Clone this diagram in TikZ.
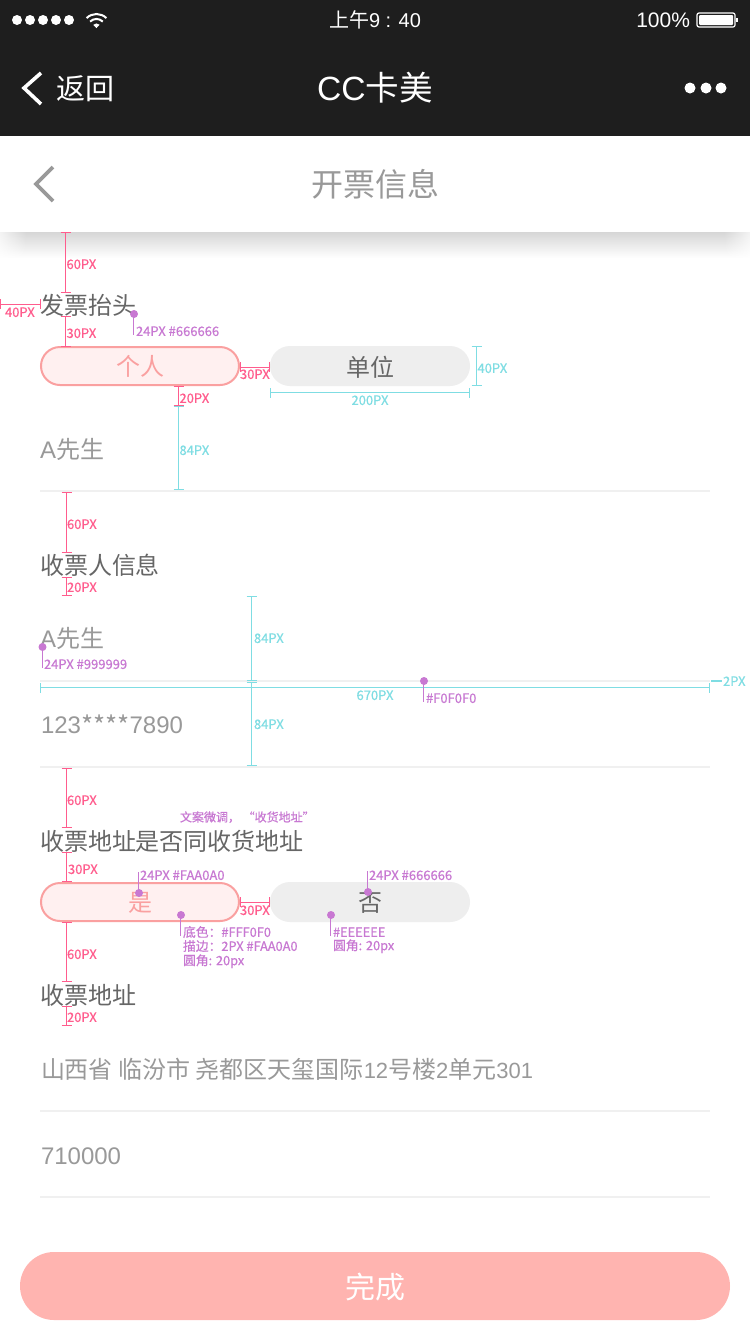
\documentclass[tikz,border=0pt]{standalone}
\usetikzlibrary{fadings}
\usepackage{fontspec}
\setmainfont{Noto Sans CJK SC}
\newfontfamily\latinf{Liberation Sans}
\newfontfamily\lblf{Noto Sans CJK SC}[FakeBold=0.5]
\definecolor{barbg}{HTML}{1E1E1E}
\definecolor{txtdark}{HTML}{666666}
\definecolor{txtgray}{HTML}{999999}
\definecolor{pinkdim}{HTML}{FF5C8D}
\definecolor{cyandim}{HTML}{7FDDE3}
\definecolor{violet}{HTML}{C878D2}
\definecolor{rule}{HTML}{F0F0F0}
\definecolor{accent}{HTML}{FAA0A0}
\definecolor{accentbg}{HTML}{FFF0F0}
\definecolor{offbg}{HTML}{EEEEEE}
\definecolor{donebg}{HTML}{FFB4B0}
\tikzset{
  lab/.style={inner sep=0pt,outer sep=0pt},
  sepline/.style={draw=rule,line width=2pt},
  dimline/.style={line width=1pt},
  note/.style={draw=violet,line width=1pt},
  notedot/.style={circle,fill=violet,inner sep=0pt,minimum size=8pt},
  onbtn/.style={draw=accent,fill=accentbg,line width=2pt,rounded corners=19pt},
  offbtn/.style={fill=offbg,rounded corners=20pt},
  chev/.style={line width=3.6pt,line join=miter,line cap=butt},
}
% text: name, x, y, anchor, size, colour, text
\newcommand{\tx}[7]{\node[lab,anchor=#4,text=#6] (#1) at (#2,#3) {\fontsize{#5}{#5}\selectfont\rule[-.12em]{0pt}{1em}#7};}
\newcommand{\lb}[7]{\node[lab,anchor=#4,text=#6] (#1) at (#2,#3) {\lblf\fontsize{#5}{#5}\selectfont\rule[-.12em]{0pt}{1em}#7};}
% vertical dimension: name,x,y1,y2,colour,label x,label y,label
\newcommand{\vd}[8]{%
  \coordinate (#1a) at (#2,#3); \coordinate (#1b) at (#2,#4);
  \draw[dimline,#5] (#1a) -- (#1b);
  \draw[dimline,#5] ([xshift=-5pt]#1a) -- ([xshift=5pt]#1a);
  \draw[dimline,#5] ([xshift=-5pt]#1b) -- ([xshift=5pt]#1b);
  \lb{#1l}{#6}{#7}{west}{13}{#5}{#8}}
% horizontal dimension: name,x1,x2,y,colour,label x,label y,label,anchor
\newcommand{\hd}[9]{%
  \coordinate (#1a) at (#2,#4); \coordinate (#1b) at (#3,#4);
  \draw[dimline,#5] (#1a) -- (#1b);
  \draw[dimline,#5] ([yshift=-5pt]#1a) -- ([yshift=5pt]#1a);
  \draw[dimline,#5] ([yshift=-5pt]#1b) -- ([yshift=5pt]#1b);
  \lb{#1l}{#6}{#7}{#9}{13}{#5}{#8}}
% annotation dot with leader: name,dot x,dot y,leader end y
\newcommand{\ann}[4]{%
  \node[notedot] (#1d) at (#2,#3) {};
  \coordinate (#1e) at (#2-.5,#4);
  \draw[note] (#2-.5,#3) -- (#1e);}
\begin{document}
\begin{tikzpicture}[x=1pt,y=-1pt]
\useasboundingbox (0,0) rectangle (750,1334);
\fill[white] (0,0) rectangle (750,1334);
% top bars
\shade[top color=black!16,bottom color=white] (0,232) rectangle (750,258);
\fill[white,path fading=east] (-10,232) rectangle (26,258);
\fill[white,path fading=west] (724,232) rectangle (760,258);
\fill[barbg] (0,0) rectangle (750,136);
\fill[white] (0,136) rectangle (750,232);
% status bar
\foreach \dx in {17,30,43,56,69} \fill[white] (\dx,20) circle (5pt);
\fill[white] (96.5,28) -- (93.3,24.8) arc[start angle=135,end angle=45,radius=4.5pt] -- cycle;
\draw[white,line width=2pt] (90.1,21.6) arc[start angle=135,end angle=45,radius=9pt];
\draw[white,line width=2pt] (86.6,18.1) arc[start angle=135,end angle=45,radius=14pt];
\tx{clock}{375}{20}{center}{20}{white}{上午{\latinf 9 : 40}}
\tx{pct}{690}{20}{east}{21}{white}{\latinf 100\%}
\draw[white,line width=1.2pt,rounded corners=2pt] (697,13) rectangle (735,27);
\fill[white,rounded corners=1pt] (699,15) rectangle (733,25);
\fill[white] (736,18) rectangle (738,22);
% nav bar
\draw[white,chev] (41,73) -- (24,88) -- (41,104);
\tx{back}{56}{88}{west}{29}{white}{返回}
\tx{title}{375}{88}{center}{33.6}{white}{{\latinf CC}卡美}
\foreach \dx in {690,706,721} \fill[white] (\dx,88) circle (5.5pt);
% header
\draw[txtgray,chev] (53,167) -- (36,184) -- (53,201);
\tx{page}{375}{184}{center}{32}{txtgray}{开票信息}
% separators
\draw[sepline] (40,491) -- (710,491);
\draw[sepline] (40,681) -- (710,681);
\draw[sepline] (40,767) -- (710,767);
\draw[sepline] (40,1111) -- (710,1111);
\draw[sepline] (40,1197) -- (710,1197);
% section 1
\tx{s1}{40}{305}{west}{24}{txtdark}{发票抬头}
\node[onbtn,minimum width=198pt,minimum height=38pt,inner sep=0pt] (b1) at (140,366) {};
\tx{b1t}{140}{366}{center}{24}{accent}{个人}
\node[offbtn,minimum width=200pt,minimum height=40pt,inner sep=0pt] (b2) at (370,366) {};
\tx{b2t}{370}{367}{center}{24}{txtdark}{单位}
\tx{v1}{40}{449}{west}{24}{txtgray}{{\latinf A}先生}
\vd{d1}{65.5}{232.5}{292}{pinkdim}{66.5}{264}{60PX}
\hd{d2}{0.5}{40}{304}{pinkdim}{5}{312}{40PX}{west}
\vd{d3}{65.5}{316.5}{346}{pinkdim}{66.5}{333}{30PX}
\hd{d4}{240.5}{269.5}{367}{pinkdim}{240}{374}{30PX}{west}
\vd{d5}{476.5}{346.5}{385}{cyandim}{477.5}{368}{40PX}
\hd{d6}{270.5}{469.5}{392.5}{cyandim}{370}{400}{200PX}{center}
\vd{d7}{178.5}{386.5}{405.5}{pinkdim}{179.5}{398}{20PX}
\vd{d8}{178.5}{406}{489.5}{cyandim}{179.5}{450}{84PX}
\ann{a1}{134}{314}{335}
\lb{a1t}{136}{331}{west}{13}{violet}{24PX \#666666}
% section 2
\vd{d9}{66.5}{492.5}{552}{pinkdim}{67}{524}{60PX}
\tx{s2}{40}{565}{west}{24}{txtdark}{收票人信息}
\vd{d10}{66.5}{577}{595.5}{pinkdim}{67}{587}{20PX}
\tx{v2}{40}{638}{west}{24}{txtgray}{{\latinf A}先生}
\vd{d11}{251.5}{596.5}{680}{cyandim}{254}{638}{84PX}
\ann{a2}{42.5}{647}{668}
\lb{a2t}{44}{664}{west}{13}{violet}{24PX \#999999}
\hd{d12}{40.5}{709.5}{687.5}{cyandim}{375}{695}{670PX}{center}
\ann{a3}{424}{681}{702}
\lb{a3t}{426}{698}{west}{13}{violet}{\#F0F0F0}
\coordinate (t2a) at (711,681); \coordinate (t2b) at (722,681);
\draw[cyandim,line width=2pt] (t2a) -- (t2b);
\lb{t2l}{723}{681}{west}{13}{cyandim}{2PX}
\vd{d13}{251.5}{682.5}{765.5}{cyandim}{254}{724}{84PX}
\tx{v3}{41}{724}{west}{24}{txtgray}{{\latinf 123}\raisebox{-2pt}{\fontsize{26}{26}\selectfont ****}{\latinf 7890}}
% section 3
\vd{d14}{66.5}{768.5}{827}{pinkdim}{67}{800}{60PX}
\lb{rem}{180}{817}{west}{12}{violet}{文案微调， “收货地址”}
\tx{s3}{40}{841}{west}{24}{txtdark}{收票地址是否同收货地址}
\vd{d15}{66.5}{852}{881}{pinkdim}{68}{869}{30PX}
\node[onbtn,minimum width=198pt,minimum height=38pt,inner sep=0pt] (b3) at (140,902) {};
\tx{b3t}{140}{902}{center}{24}{accent}{是}
\node[offbtn,minimum width=200pt,minimum height=40pt,inner sep=0pt] (b4) at (370,902) {};
\tx{b4t}{370}{902}{center}{24}{txtdark}{否}
\hd{d16}{240.5}{269.5}{902}{pinkdim}{240}{910}{30PX}{west}
\ann{a4}{139}{893}{872}
\lb{a4t}{140}{875}{west}{13}{violet}{24PX \#FAA0A0}
\ann{a5}{368}{892}{871}
\lb{a5t}{369}{875}{west}{13}{violet}{24PX \#666666}
\ann{a6}{181}{915}{936}
\lb{a6t}{183}{932}{west}{12.8}{violet}{底色：\#FFF0F0}
\lb{a6u}{183}{946}{west}{12.8}{violet}{描边：2PX \#FAA0A0}
\lb{a6v}{183}{961}{west}{12.8}{violet}{圆角: 20px}
\ann{a7}{331}{915}{936}
\lb{a7t}{333}{932}{west}{12.8}{violet}{\#EEEEEE}
\lb{a7u}{333}{946}{west}{12.8}{violet}{圆角: 20px}
\vd{d17}{66.5}{922.5}{981}{pinkdim}{67}{954}{60PX}
\tx{s4}{40}{995}{west}{24}{txtdark}{收票地址}
\vd{d18}{66.5}{1006.5}{1025}{pinkdim}{67}{1017}{20PX}
\tx{v4}{41}{1069}{west}{24}{txtgray}{山西省 临汾市 尧都区天玺国际{\latinf\fontsize{22}{22}\selectfont 12}号楼{\latinf\fontsize{22}{22}\selectfont 2}单元{\latinf\fontsize{22}{22}\selectfont 301}}
\tx{v5}{41}{1155}{west}{24}{txtgray}{\latinf 710000}
% done button
\node[fill=donebg,rounded corners=34pt,minimum width=710pt,minimum height=68pt,inner sep=0pt] (done) at (375,1286) {};
\tx{donet}{375}{1287}{center}{30}{white}{完成}
\end{tikzpicture}
\end{document}
